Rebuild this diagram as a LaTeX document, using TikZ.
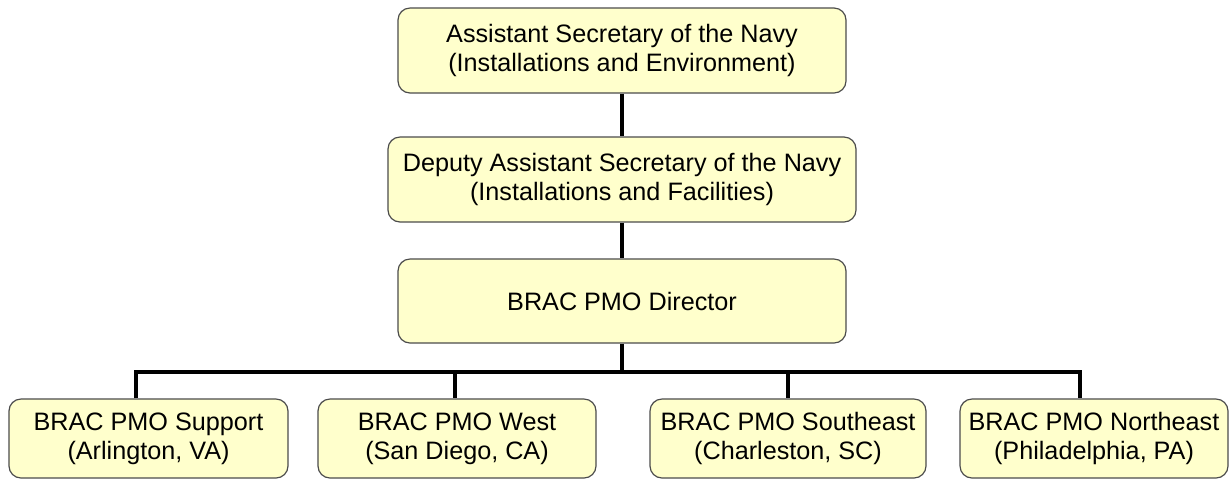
\documentclass[tikz,border=0pt]{standalone}
\usepackage{fontspec}
\setmainfont{Liberation Sans}
\definecolor{boxfill}{RGB}{255,255,204}

\begin{document}
\begin{tikzpicture}[x=0.5pt,y=-0.5pt,
    office/.style={draw=black!70,line width=0.6pt,fill=boxfill,rounded corners=6pt,
      align=center,inner sep=0pt,minimum height=42.5pt,
      font=\fontsize{12.6}{14.5}\selectfont},
    link/.style={line width=2pt}]
  \useasboundingbox (0,0) rectangle (1230,479);
  % top of the chain
  \node[office,minimum width=224pt] (asn) at (622,50.5)
    {Assistant Secretary of the Navy\\(Installations and Environment)};
  \node[office,minimum width=234pt] (dasn) at (622,179.5)
    {Deputy Assistant Secretary of the Navy\\(Installations and Facilities)};
  \node[office,minimum width=224pt,minimum height=42pt] (dir) at (622,301)
    {BRAC PMO Director};
  % field offices
  \node[office,minimum width=139.5pt,minimum height=39.5pt] (sup) at (148.5,438.5)
    {BRAC PMO Support\\(Arlington, VA)};
  \node[office,minimum width=139pt,minimum height=39.5pt] (west) at (457,438.5)
    {BRAC PMO West\\(San Diego, CA)};
  \node[office,minimum width=138pt,minimum height=39.5pt] (se) at (788,438.5)
    {BRAC PMO Southeast\\(Charleston, SC)};
  \node[office,minimum width=134pt,minimum height=39.5pt] (ne) at (1094,438.5)
    {BRAC PMO Northeast\\(Philadelphia, PA)};
  % connectors
  \draw[link] (asn) -- (dasn);
  \draw[link] (dasn) -- (dir);
  \coordinate (bus) at (622,372);
  \coordinate (b1) at (136,372);
  \coordinate (b2) at (455,372);
  \coordinate (b3) at (788,372);
  \coordinate (b4) at (1080,372);
  \draw[link] (dir) -- (bus);
  \draw[link] (b1 |- sup.north) -- (b1) -- (b4) -- (b4 |- ne.north);
  \draw[link] (b2) -- (b2 |- west.north);
  \draw[link] (b3) -- (b3 |- se.north);
\end{tikzpicture}
\end{document}
